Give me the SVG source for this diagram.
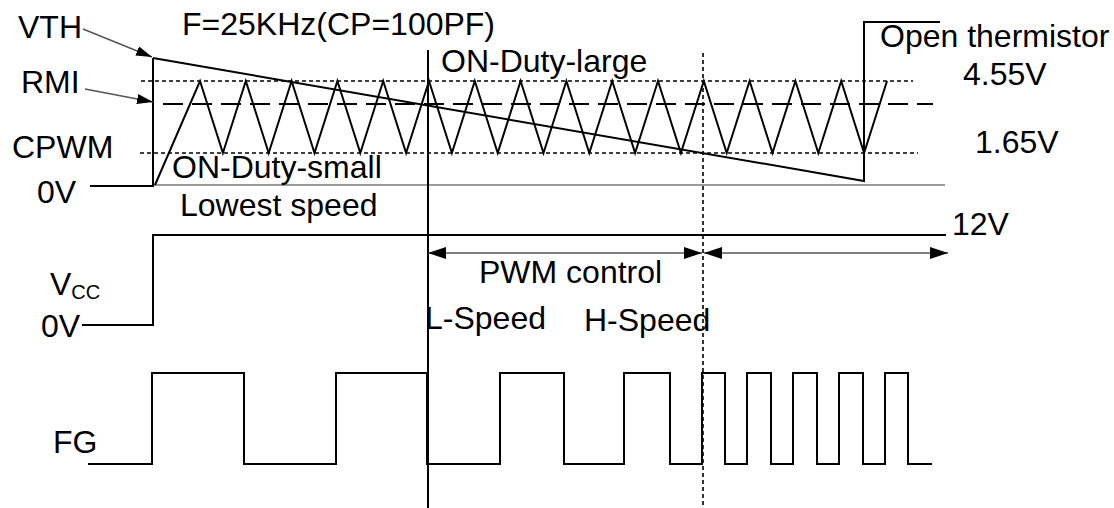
<svg xmlns="http://www.w3.org/2000/svg" width="1114" height="508" viewBox="0 0 1114 508">
<style>
text{font-family:"Liberation Sans",Arial,sans-serif;font-size:32px;fill:#000}
.w{fill:none;stroke:#000;stroke-width:2}
.dot{fill:none;stroke:#000;stroke-width:1.6;stroke-dasharray:4,3}
.dash{fill:none;stroke:#000;stroke-width:2;stroke-dasharray:20,9}
.thin{fill:none;stroke:#7a7a7a;stroke-width:1.3}
.arr{fill:none;stroke:#555;stroke-width:1.5}
</style>
<defs>
<marker id="ah" markerUnits="userSpaceOnUse" markerWidth="18" markerHeight="12" refX="18" refY="6" orient="auto-start-reverse"><path d="M0,0 L18,6 L0,12 z" fill="#000"/></marker>
<marker id="sh" markerUnits="userSpaceOnUse" markerWidth="16" markerHeight="10" refX="16" refY="5" orient="auto"><path d="M0,0 L16,5 L0,10 z" fill="#000"/></marker>
</defs>
<g id="grid">
<path class="dot" d="M141,81 H913"/>
<path class="dot" d="M140,153 H918"/>
<path class="dash" d="M163,104 H933"/>
<path class="thin" d="M153,185 H945"/>
<path class="w" d="M428,50 V508"/>
<path class="dot" d="M703,53 V508"/>
</g>
<g id="cpwm-wave">
<polyline class="w" points="155,185 200,81 222.9,153 245.8,81 268.7,153 291.6,81 314.5,153 337.4,81 360.3,153 383.2,81 406.1,153 429,81 451.9,153 474.8,81 497.7,153 520.6,81 543.5,153 566.4,81 589.3,153 612.2,81 635.1,153 658,81 680.9,153 703.8,81 726.7,153 749.6,81 772.5,153 795.4,81 818.3,153 841.2,81 864.1,153 887,81"/>
</g>
<g id="vth-wave">
<path class="w" d="M90,186 H153 V58"/>
<path class="w" stroke-width="2.4" d="M153,58 L864,181 V22 H940"/>
</g>
<g id="vcc-wave">
<path class="w" d="M82,325 H153 V235 H946"/>
</g>
<g id="fg-wave">
<path class="w" d="M88,464 H152 V373 H244 V464 H336 V373 H427 V464 H500 V373 H564 V464 H624 V373 H670 V464 H702 V373 H725 V464 H747 V373 H771 V464 H793 V373 H817 V464 H839 V373 H863 V464 H885 V373 H908 V464 H932"/>
</g>
<g id="connectors">
<path class="arr" d="M428,253 H702" marker-start="url(#ah)" marker-end="url(#ah)"/>
<path class="arr" d="M704,253 H948" marker-start="url(#ah)" marker-end="url(#ah)"/>
<path class="arr" stroke="#000" stroke-width="1.2" d="M83,29 L152,57" marker-end="url(#sh)"/>
<path class="arr" stroke="#000" stroke-width="1.2" d="M85,89 L153,102" marker-end="url(#sh)"/>
</g>
<g id="labels">
<text x="18" y="38">VTH</text>
<text x="182" y="35">F=25KHz(CP=100PF)</text>
<text x="21" y="93">RMI</text>
<text x="12" y="158">CPWM</text>
<text x="37" y="203">0V</text>
<text x="172" y="178">ON-Duty-small</text>
<text x="180" y="216">Lowest speed</text>
<text x="441" y="72">ON-Duty-large</text>
<text x="880" y="47">Open thermistor</text>
<text x="963" y="85">4.55V</text>
<text x="975" y="153">1.65V</text>
<text x="952" y="235">12V</text>
<text x="479" y="283">PWM control</text>
<text x="50" y="295">V<tspan font-size="20" dy="4">CC</tspan></text>
<text x="41" y="337">0V</text>
<text x="425" y="329">L-Speed</text>
<text x="584" y="331">H-Speed</text>
<text x="53" y="453" font-size="38">FG</text>
</g>
</svg>
